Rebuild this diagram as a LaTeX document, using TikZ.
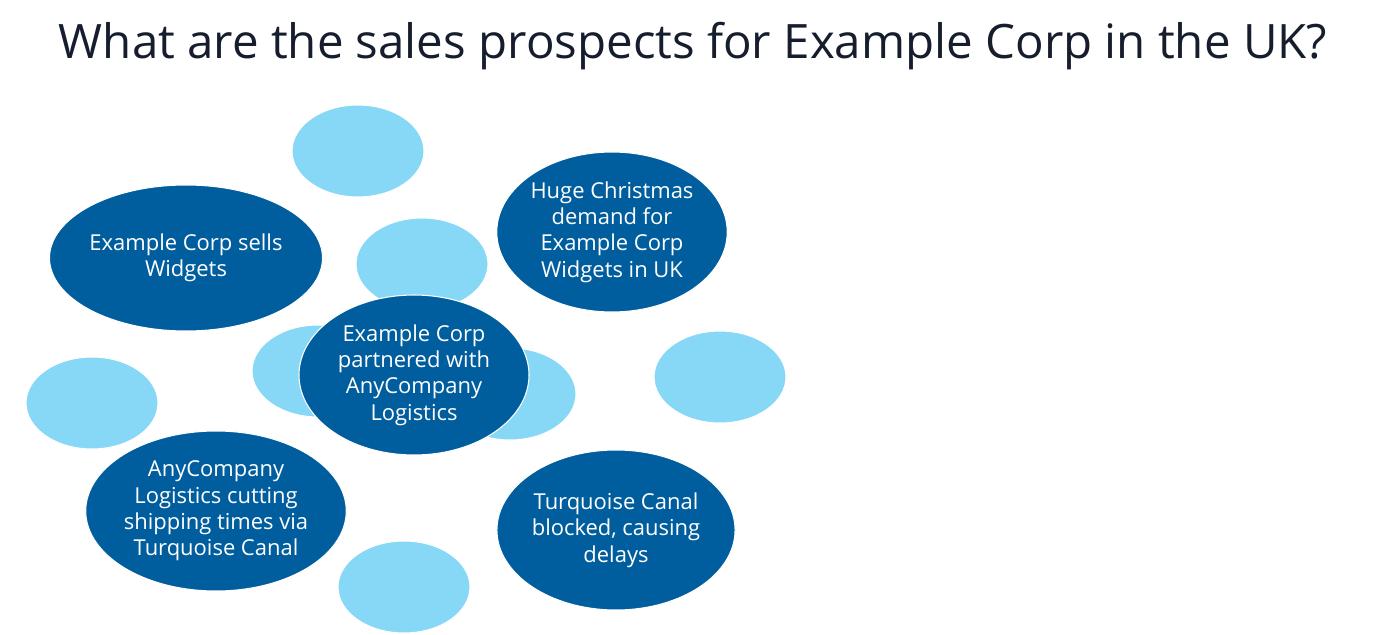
\documentclass[tikz,border=0pt]{standalone}
\usepackage{fontspec}
\setmainfont{Open Sans}
\usetikzlibrary{shapes.geometric}
\definecolor{darkblob}{RGB}{0,94,158}
\definecolor{lightblob}{RGB}{135,215,247}
\definecolor{titleink}{RGB}{22,30,45}
\tikzset{
  blob/.style={ellipse,inner sep=0pt,minimum width=132*0.02cm,minimum height=92*0.02cm,fill=lightblob,draw=white,line width=0.6pt},
  idea/.style={ellipse,inner sep=0pt,minimum width=230*0.02cm,minimum height=160*0.02cm,fill=darkblob,draw=white,line width=0.6pt,
    text=white,align=center,font=\fontsize{12.5}{15}\selectfont}
}
\begin{document}
\begin{tikzpicture}[x=0.02cm,y=-0.02cm]
\useasboundingbox (0,0) rectangle (1400,635);
% title
\node[text=titleink,font=\fontsize{27}{32}\selectfont] (title) at (693,46) {What are the sales prospects for Example Corp in the UK?};
% empty bubbles behind
\node[blob] (b1) at (358,151) {};
\node[blob] (b2) at (422,264) {};
\node[blob] (b3) at (318,371) {};
\node[blob] (b4) at (510,394) {};
\node[blob] (b5) at (92,403) {};
\node[blob] (b6) at (720,377) {};
\node[blob] (b7) at (404,587) {};
% filled ideas
\node[idea,minimum height=146*0.02cm] (sells) at (186,258) {Example Corp sells\\Widgets};
\node[idea] (xmas) at (612,232) {Huge Christmas\\demand for\\Example Corp\\Widgets in UK};
\node[idea] (partner) at (414,375) {Example Corp\\partnered with\\AnyCompany\\Logistics};
\node[idea] (cutting) at (216,511) {AnyCompany\\Logistics cutting\\shipping times via\\Turquoise Canal};
\node[idea] (blocked) at (616,530) {Turquoise Canal\\blocked, causing\\delays};
\end{tikzpicture}
\end{document}
